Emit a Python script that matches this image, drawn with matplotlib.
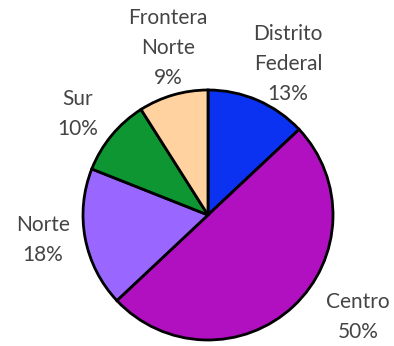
import matplotlib.pyplot as plt

# Regional shares
regions = ['Distrito\nFederal', 'Centro', 'Norte', 'Sur', 'Frontera\nNorte']
shares = [13, 50, 18, 10, 9]
colors = ['#0a32f0', '#b010c0', '#9966ff', '#0e9632', '#ffd2a0']

# where each label sits (in pie-radius units)
label_xy = [(0.64, 1.208), (1.20, -0.816), (-1.32, -0.20), (-1.04, 0.808), (-0.32, 1.336)]

fig = plt.figure(figsize=(3.94, 3.46), dpi=100)
ax = fig.add_axes([0, 0, 1, 1])

labels = ['%s\n%d%%' % (r, s) for r, s in zip(regions, shares)]
wedges, texts = ax.pie(shares, labels=labels, colors=colors, startangle=90,
                       counterclock=False,
                       wedgeprops=dict(edgecolor='black', linewidth=2))

for t, (x, y) in zip(texts, label_xy):
    t.set_position((x, y))
    t.set_ha('center')
    t.set_va('center')
    t.set_multialignment('center')
    t.set_fontfamily('Lato')
    t.set_fontsize(15)
    t.set_color('#444444')
    t.set_linespacing(1.65)

ax.set_xlim(-1.664, 1.488)
ax.set_ylim(-1.048, 1.72)
ax.set_aspect('equal')
ax.axis('off')

fig.savefig('out.png', dpi=100)
